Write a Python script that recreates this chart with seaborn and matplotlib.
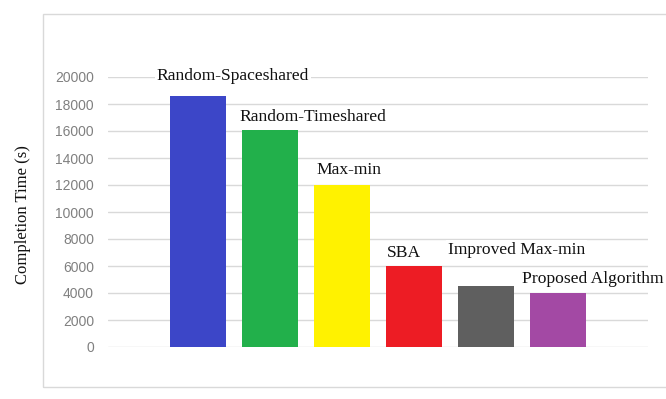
import matplotlib
matplotlib.use("Agg")
import matplotlib.pyplot as plt
from matplotlib.patches import Rectangle
import seaborn as sns
import pandas as pd

# Completion time per scheduling algorithm
algorithms = ["Random-Spaceshared", "Random-Timeshared", "Max-min", "SBA",
              "Improved Max-min", "Proposed Algorithm"]
completion_time = [18600, 16100, 12000, 6000, 4500, 4000]
yticks = [0, 2000, 4000, 6000, 8000, 10000, 12000, 14000, 16000, 18000, 20000]

bar_colors = ["#3c46c8", "#22b04b", "#fff200", "#ed1c24", "#5f5f5f", "#a349a4"]
# label placement relative to each bar (x offset in category units, y offset in seconds)
label_dx = [-0.57, -0.42, -0.35, -0.375, -0.53, -0.50]
label_dy = [1470, 940, 1110, 960, 2685, 1037]

df = pd.DataFrame({"Algorithm": algorithms, "Time": completion_time})

sns.set_style("white")
fig = plt.figure(figsize=(6.66, 3.99), dpi=100)
ax = fig.add_axes([108 / 666, 1 - 347 / 399, 540 / 666, 270 / 399])

# outer chart frame
fig.patches.append(Rectangle((43 / 666, 1 - 387 / 399), 1.0, (387 - 14) / 399,
                             transform=fig.transFigure, fill=False,
                             edgecolor="#d9d9d9", linewidth=1.0))

sns.barplot(data=df, x="Algorithm", y="Time", hue="Algorithm",
            palette=bar_colors, width=0.78, legend=False, ax=ax,
            saturation=1, linewidth=0)

ax.set_xlim(-1.25, 6.25)
ax.set_ylim(0, 20000)
ax.set_yticks(yticks)
ax.set_yticklabels([str(v) for v in yticks], fontfamily="Liberation Sans",
                   fontsize=10, color="#808080")
ax.set_xticks([])
ax.set_xlabel("")
ax.set_ylabel("")
ax.tick_params(axis="y", length=0, pad=10)
ax.grid(axis="y", color="#d9d9d9", linewidth=1)
ax.set_axisbelow(True)
for s in ax.spines.values():
    s.set_visible(False)

for i, (name, val) in enumerate(zip(algorithms, completion_time)):
    ax.text(i + label_dx[i], val + label_dy[i], name, ha="left", va="center",
            fontfamily="Liberation Serif", fontsize=12.6, color="#111111",
            clip_on=False,
            bbox=dict(facecolor="white", edgecolor="none", pad=1.5))

fig.text(23 / 666, 1 - 215 / 399, "Completion Time (s)", rotation=90,
         ha="center", va="center", fontfamily="Liberation Serif",
         fontsize=12, color="#111111")

fig.savefig("out.png", dpi=100)
